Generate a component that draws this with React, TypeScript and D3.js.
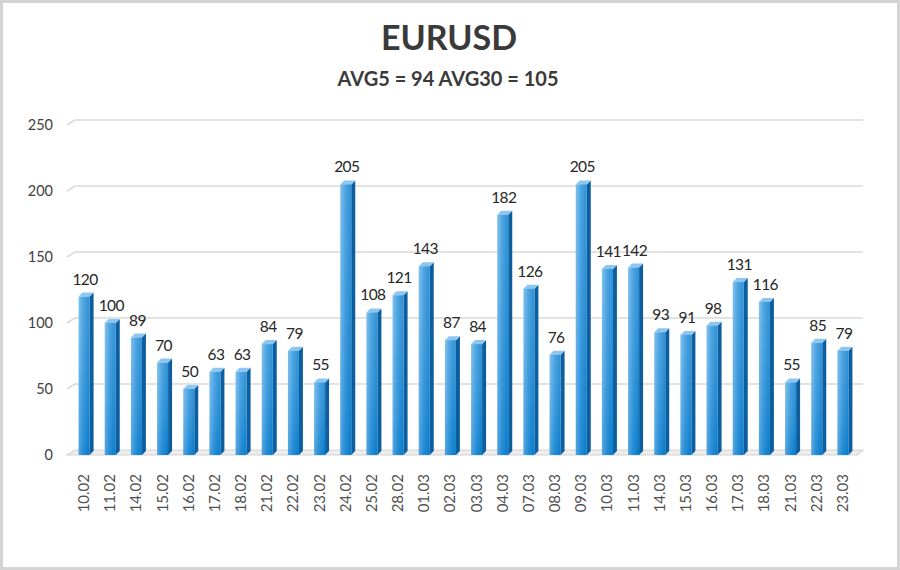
import { useEffect, useRef } from "react";
import * as d3 from "d3";

const dates = [
  "10.02", "11.02", "14.02", "15.02", "16.02", "17.02", "18.02", "21.02", "22.02", "23.02",
  "24.02", "25.02", "28.02", "01.03", "02.03", "03.03", "04.03", "07.03", "08.03", "09.03",
  "10.03", "11.03", "14.03", "15.03", "16.03", "17.03", "18.03", "21.03", "22.03", "23.03",
];
const values = [
  120, 100, 89, 70, 50, 63, 63, 84, 79, 55,
  205, 108, 121, 143, 87, 84, 182, 126, 76, 205,
  141, 142, 93, 91, 98, 131, 116, 55, 85, 79,
];
const yTicks = [0, 50, 100, 150, 200, 250];
const title = "EURUSD";
const subtitle = "AVG5 = 94 AVG30 = 105";

const W = 900;
const H = 570;
const FONT = "Lato, 'Open Sans', sans-serif";

export default function App() {
  const ref = useRef<SVGSVGElement | null>(null);

  useEffect(() => {
    document.body.style.margin = "0";
    const svg = d3.select(ref.current);
    svg.selectAll("*").remove();
    svg.attr("width", W).attr("height", H).attr("viewBox", `0 0 ${W} ${H}`);

    const defs = svg.append("defs");
    const front = defs.append("linearGradient").attr("id", "front").attr("x1", 0).attr("y1", 0).attr("x2", 1).attr("y2", 0);
    front.append("stop").attr("offset", "0%").attr("stop-color", "#6db6ec");
    front.append("stop").attr("offset", "45%").attr("stop-color", "#2f95dc");
    front.append("stop").attr("offset", "100%").attr("stop-color", "#0a7dcc");
    const shade = defs.append("linearGradient").attr("id", "shade").attr("x1", 0).attr("y1", 0).attr("x2", 0).attr("y2", 1);
    shade.append("stop").attr("offset", "0%").attr("stop-color", "#ffffff").attr("stop-opacity", 0.15);
    shade.append("stop").attr("offset", "100%").attr("stop-color", "#0070c0").attr("stop-opacity", 0.25);

    svg.append("rect").attr("x", 1.5).attr("y", 1.5).attr("width", W - 3).attr("height", H - 3)
      .attr("fill", "#fff").attr("stroke", "#d4d4d4").attr("stroke-width", 3);

    svg.append("text").attr("x", 449).attr("y", 50).attr("text-anchor", "middle")
      .attr("font-family", FONT).attr("font-weight", 700).attr("font-size", 34).attr("fill", "#3a3a3a")
      .text(title);
    svg.append("text").attr("x", 448).attr("y", 86).attr("text-anchor", "middle")
      .attr("font-family", FONT).attr("font-weight", 700).attr("font-size", 20).attr("fill", "#3a3a3a")
      .text(subtitle);

    // back-wall scale; front faces are shifted down-left by the depth
    const x = d3.scaleBand<string>().domain(dates).range([71, 856]).paddingInner(0).paddingOuter(0);
    const y = d3.scaleLinear().domain([0, 250]).range([450, 120]);
    const dx = 5;
    const dy = 5;

    // floor
    svg.append("polygon")
      .attr("points", `${67},${y(0) + dy} ${857},${y(0) + dy} ${863},${y(0)} ${75},${y(0)}`)
      .attr("fill", "#ededed").attr("stroke", "#d4d4d4").attr("stroke-width", 1.2);

    const grid = svg.append("g").attr("fill", "none").attr("stroke", "#d9d9d9").attr("stroke-width", 1.5);
    yTicks.filter((t) => t > 0).forEach((t) => {
      grid.append("polyline").attr("points", `67,${y(t) + dy} 75,${y(t)} 863,${y(t)}`);
    });

    const yl = svg.append("g").attr("font-family", FONT).attr("font-size", 14.5).attr("fill", "#404040");
    yTicks.forEach((t) => {
      yl.append("text").attr("x", 53).attr("y", y(t) + dy + 5).attr("text-anchor", "end").text(t);
    });

    const bw = 11;
    const bars = svg.append("g");
    dates.forEach((d, i) => {
      const v = values[i];
      const cx = (x(d) as number) + x.bandwidth() / 2;
      const x0 = cx - bw / 2;
      const x1 = x0 + bw;
      const yt = y(v) + dy;
      const yb = y(0) + dy;
      const g = bars.append("g");
      g.append("polygon")
        .attr("points", `${x1},${yt} ${x1 + dx - 1},${yt - dy + 1} ${x1 + dx - 1},${yb - dy + 1} ${x1},${yb}`)
        .attr("fill", "#0d5e9e");
      g.append("polygon")
        .attr("points", `${x0},${yt} ${x0 + dx - 1},${yt - dy + 1} ${x1 + dx - 1},${yt - dy + 1} ${x1},${yt}`)
        .attr("fill", "#8cc6f1");
      g.append("rect").attr("x", x0).attr("y", yt).attr("width", bw).attr("height", yb - yt).attr("fill", "url(#front)");
      g.append("rect").attr("x", x0).attr("y", yt).attr("width", bw).attr("height", yb - yt).attr("fill", "url(#shade)");
    });

    const vl = svg.append("g").attr("font-family", FONT).attr("font-size", 15.5)
      .attr("letter-spacing", -0.6).attr("fill", "#262626");
    dates.forEach((d, i) => {
      const cx = (x(d) as number) + x.bandwidth() / 2 + 1;
      vl.append("text").attr("x", cx).attr("y", y(values[i]) - 7).attr("text-anchor", "middle").text(values[i]);
    });

    const xl = svg.append("g").attr("font-family", FONT).attr("font-size", 15).attr("fill", "#505050");
    dates.forEach((d) => {
      const cx = (x(d) as number) + x.bandwidth() / 2;
      xl.append("text").attr("transform", `translate(${cx + 5},${474}) rotate(-90)`)
        .attr("text-anchor", "end").text(d);
    });
  }, []);

  return <svg ref={ref} style={{ display: "block" }} />;
}
